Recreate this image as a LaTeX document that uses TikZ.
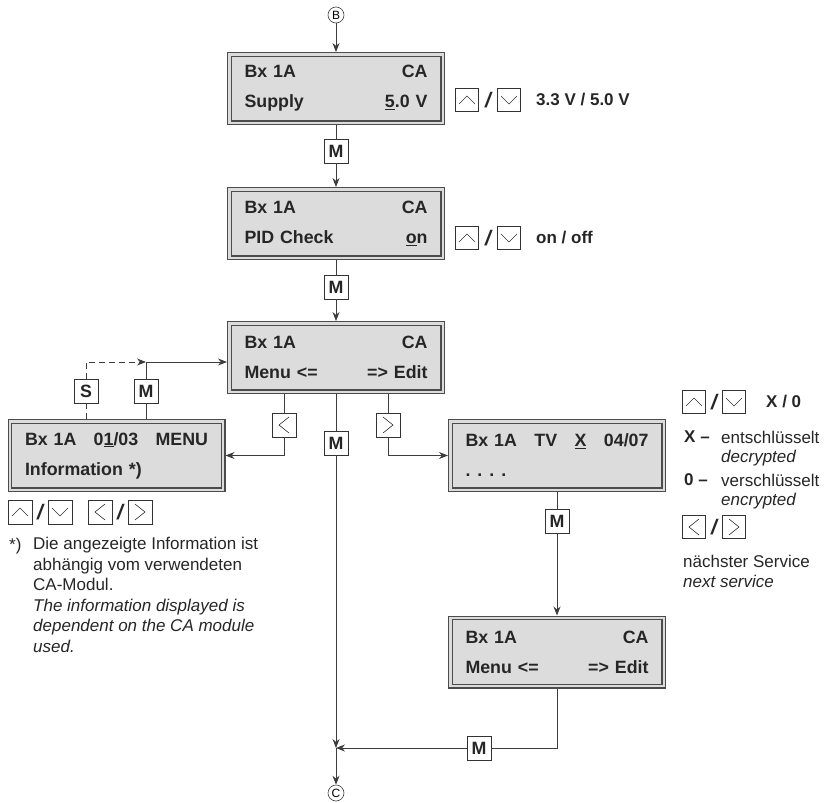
\documentclass[tikz,border=0pt]{standalone}
\usepackage{fontspec}
\setmainfont{Liberation Sans}
\usetikzlibrary{arrows.meta}
\definecolor{lcdGray}{HTML}{DCDCDC}
\definecolor{lineGray}{HTML}{3C3C3C}
\newcommand{\boxfont}{\fontsize{17.8}{20.5}\selectfont\bfseries}
\newcommand{\notefont}{\fontsize{17}{20.6}\selectfont}
\tikzset{
  lcd/.style={draw=black!70, line width=1.1pt, double=lcdGray, double distance=2.4pt,
    fill=lcdGray, minimum width=213.4pt, minimum height=68.4pt, outer sep=2.3pt,
    text width=183pt, inner xsep=0pt, align=left, font=\boxfont, text=black!85},
  btn/.style={draw=black!80, line width=0.8pt, fill=white, minimum size=#1,
    inner sep=0pt, font=\boxfont, text=black!85},
  btn/.default=24pt,
  upbtn/.style={btn=#1, path picture={\draw[line width=0.6pt]
    ([shift={(-8pt,-4pt)}]path picture bounding box.center) -- ++(8pt,8pt) -- ++(8pt,-8pt);}},
  upbtn/.default=23pt,
  downbtn/.style={btn=#1, path picture={\draw[line width=0.6pt]
    ([shift={(-8pt,4pt)}]path picture bounding box.center) -- ++(8pt,-8pt) -- ++(8pt,8pt);}},
  downbtn/.default=23pt,
  leftbtn/.style={btn=#1, path picture={\draw[line width=0.6pt]
    ([shift={(5pt,8pt)}]path picture bounding box.center) -- ++(-10pt,-8pt) -- ++(10pt,-8pt);}},
  leftbtn/.default=24pt,
  rightbtn/.style={btn=#1, path picture={\draw[line width=0.6pt]
    ([shift={(-5pt,8pt)}]path picture bounding box.center) -- ++(10pt,-8pt) -- ++(-10pt,-8pt);}},
  rightbtn/.default=24pt,
  slashmark/.style={inner sep=0pt, font=\fontsize{21}{21}\selectfont\bfseries\itshape, text=black!85},
  note/.style={inner sep=0pt, anchor=west, font=\notefont, text=black!85},
  circ/.style={circle, draw=black!75, line width=0.6pt, minimum size=16pt, inner sep=0pt,
    font=\fontsize{12}{12}\selectfont},
  flow/.style={draw=lineGray, line width=0.9pt},
  skipflow/.style={flow, dash pattern=on 6pt off 4pt},
}

\begin{document}
\begin{tikzpicture}[x=1pt, y=1pt, >={Stealth[length=9pt, width=7pt]}]
  \useasboundingbox (0,0) rectangle (828,-803);

  % main column
  \node[circ] (B) at (336,-15) {B};
  \node[lcd] (b1) at (336,-88.5) {Bx 1A\hfill CA\\[9.5pt]Supply\hfill\underline{5}.0 V};
  \node[btn] (m1) at (336,-151) {M};
  \node[lcd] (b2) at (336,-223.5) {Bx 1A\hfill CA\\[9.5pt]PID Check\hfill\underline{o}n};
  \node[btn] (m2) at (336,-287) {M};
  \node[lcd] (b3) at (336,-357.5) {Bx 1A\hfill CA\\[9.5pt]Menu <=\hfill => Edit};
  \node[btn] (m3) at (336,-443) {M};
  \coordinate (j) at (336,-748);
  \node[circ] (C) at (336,-793) {C};

  % left branch
  \node[leftbtn] (kl) at (284,-425) {};
  \node[lcd] (b4) at (116.5,-455.5) {Bx 1A\hfill 0\underline{1}/03\hfill MENU\\[9.5pt]Information *)};
  \node[btn] (ks) at (86,-391) {S};
  \node[btn] (m4) at (146,-391) {M};
  \coordinate (jt) at (146,-362);

  % right branch
  \node[rightbtn] (kr) at (388,-425) {};
  \node[lcd] (b5) at (557,-455.5) {Bx 1A\hfill TV\hfill\underline{X}\hfill 04/07\\[9.5pt].\hspace{7pt}.\hspace{7pt}.\hspace{7pt}.};
  \node[btn] (m5) at (557,-521) {M};
  \node[lcd] (b6) at (557,-652) {Bx 1A\hfill CA\\[9.5pt]Menu <=\hfill => Edit};
  \node[btn] (m6) at (479,-748) {M};

  % connectors
  \draw[flow,->] (B) -- (b1);
  \draw[flow] (b1) -- (m1);
  \draw[flow,->] (m1) -- (b2);
  \draw[flow] (b2) -- (m2);
  \draw[flow,->] (m2) -- (b3);
  \draw[flow] (b3) -- (m3);
  \draw[flow,->] (m3) -- (j);
  \draw[flow,->] (j) -- (C);
  \draw[flow] (b3.south -| kl) -- (kl);
  \draw[flow,->] (kl) |- (b4);
  \draw[flow] (b3.south -| kr) -- (kr);
  \draw[flow,->] (kr) |- (b5);
  \draw[flow] (b5) -- (m5);
  \draw[flow,->] (m5) -- (b6);
  \draw[flow] (b6) |- (m6);
  \draw[flow,->] (m6) -- (j);
  \draw[flow] (b4.north -| m4) -- (m4) -- (jt);
  \draw[flow,->] (jt) -- (jt -| b3.west);
  \draw[skipflow] (b4.north -| ks) -- (ks);
  \draw[skipflow,->] (ks) |- (jt);

  % key hints beside the displays
  \node[upbtn] (u1) at (467,-100) {};
  \node[slashmark] (s1) at (488,-100) {/};
  \node[downbtn] (d1) at (509,-100) {};
  \node[note, font=\notefont\bfseries] (t1) at (536,-100) {3.3 V / 5.0 V};

  \node[upbtn] (u2) at (467,-238) {};
  \node[slashmark] (s2) at (488,-238) {/};
  \node[downbtn] (d2) at (509,-238) {};
  \node[note, font=\notefont\bfseries] (t2) at (536,-238) {on / off};

  % right legend
  \node[upbtn] (u3) at (694,-402) {};
  \node[slashmark] (s3) at (714,-402) {/};
  \node[downbtn] (d3) at (734,-402) {};
  \node[note, font=\notefont\bfseries] (t3) at (766,-402) {X / 0};
  \node[note, font=\notefont\bfseries] (x1) at (684,-437) {X –};
  \node[note] (x2) at (721,-437) {entschlüsselt};
  \node[note, font=\notefont\itshape] (x3) at (721,-458) {decrypted};
  \node[note, font=\notefont\bfseries] (o1) at (684,-480) {0 –};
  \node[note] (o2) at (721,-480) {verschlüsselt};
  \node[note, font=\notefont\itshape] (o3) at (721,-501) {encrypted};
  \node[leftbtn=23pt] (l3) at (694,-527) {};
  \node[slashmark] (s4) at (714,-527) {/};
  \node[rightbtn=23pt] (r3) at (734,-527) {};
  \node[note] (n1) at (683,-561) {nächster Service};
  \node[note, font=\notefont\itshape] (n2) at (683,-581) {next service};

  % left legend and footnote
  \node[upbtn=24pt] (u4) at (20,-512) {};
  \node[slashmark] (s5) at (40,-512) {/};
  \node[downbtn=24pt] (d4) at (60,-512) {};
  \node[leftbtn] (l4) at (100,-512) {};
  \node[slashmark] (s6) at (120,-512) {/};
  \node[rightbtn] (r4) at (140,-512) {};
  \node[note, font=\fontsize{17}{20.6}\selectfont] (fs) at (9,-546) {*)};
  \node[inner sep=0pt, anchor=north west, align=left, font=\fontsize{17}{20.6}\selectfont, text=black!85] (fn) at (33,-537)
    {Die angezeigte Information ist\\abhängig vom verwendeten\\CA-Modul.\\\textit{The information displayed is}\\\textit{dependent on the CA module}\\\textit{used.}};
\end{tikzpicture}
\end{document}
